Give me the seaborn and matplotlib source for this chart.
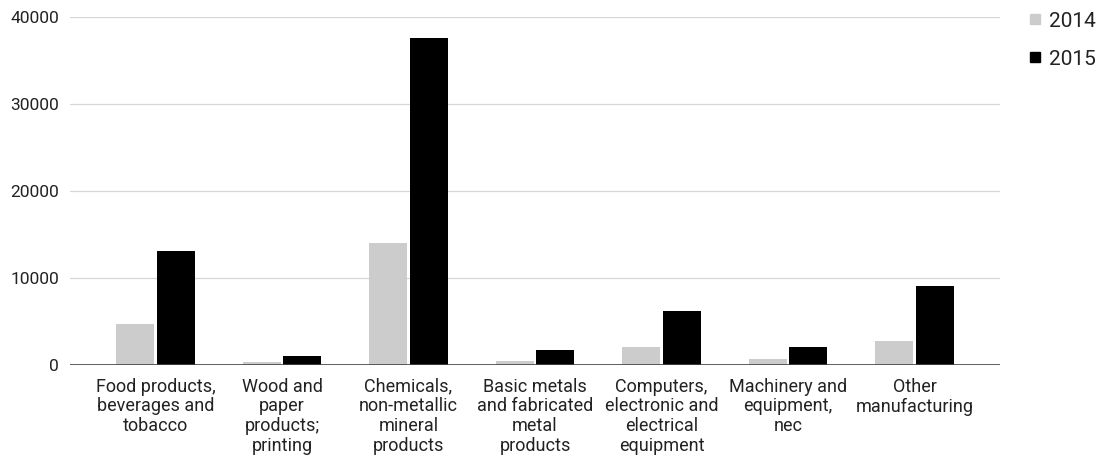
import matplotlib
matplotlib.use("Agg")
import matplotlib.pyplot as plt
import seaborn as sns
import pandas as pd
from matplotlib.lines import Line2D

categories = [
    "Food products,\nbeverages and\ntobacco",
    "Wood and\npaper\nproducts;\nprinting",
    "Chemicals,\nnon-metallic\nmineral\nproducts",
    "Basic metals\nand fabricated\nmetal\nproducts",
    "Computers,\nelectronic and\nelectrical\nequipment",
    "Machinery and\nequipment,\nnec",
    "Other\nmanufacturing",
]
years = ["2014", "2015"]
values_2014 = [4750, 410, 14000, 530, 2140, 760, 2790]
values_2015 = [13150, 1070, 37600, 1720, 6270, 2140, 9140]
y_ticks = [0, 10000, 20000, 30000, 40000]
colors = ["#cccccc", "#000000"]

df = pd.DataFrame({
    "category": categories * 2,
    "year": [years[0]] * len(categories) + [years[1]] * len(categories),
    "value": values_2014 + values_2015,
})

sns.set_theme(style="white")
plt.rcParams["font.family"] = ["Roboto", "DejaVu Sans"]

W, H = 1100, 463
fig = plt.figure(figsize=(W / 100, H / 100), dpi=100)
ax = fig.add_axes([70 / W, (H - 365.3) / H, 930 / W, (365.3 - 16.7) / H])

sns.barplot(
    data=df, x="category", y="value", hue="year", order=categories,
    hue_order=years, palette=colors, saturation=1, width=0.64, gap=0.06,
    linewidth=0, legend=False, ax=ax,
)

ax.set_xlim(-0.676, len(categories) - 1 + 0.676)
ax.set_ylim(0, 40000)
ax.set_yticks(y_ticks)
ax.set_yticklabels([str(v) for v in y_ticks])
ax.yaxis.grid(True, color="#d6d6d6", linewidth=0.9)
ax.xaxis.grid(False)
ax.set_axisbelow(True)
ax.axhline(0, color="#444444", linewidth=1.2, zorder=5)
for s in ax.spines.values():
    s.set_visible(False)

ax.set_xlabel("")
ax.set_ylabel("")
ax.tick_params(axis="y", length=0, pad=8, labelsize=12.5, labelcolor="#222222")
ax.tick_params(axis="x", length=0, pad=9, labelsize=13, labelcolor="#222222")
for lbl in ax.get_xticklabels():
    lbl.set_multialignment("center")
    lbl.set_linespacing(1.12)

handles = [Line2D([], [], marker="s", linestyle="", color=c, markersize=7) for c in colors]
fig.legend(
    handles, years, loc="upper left", bbox_to_anchor=(1008 / W, 1 + 7 / H),
    frameon=False, fontsize=15, labelspacing=0.9, handletextpad=0.25,
    handlelength=0.8, labelcolor="#222222",
)

fig.savefig("out.png", dpi=100)
